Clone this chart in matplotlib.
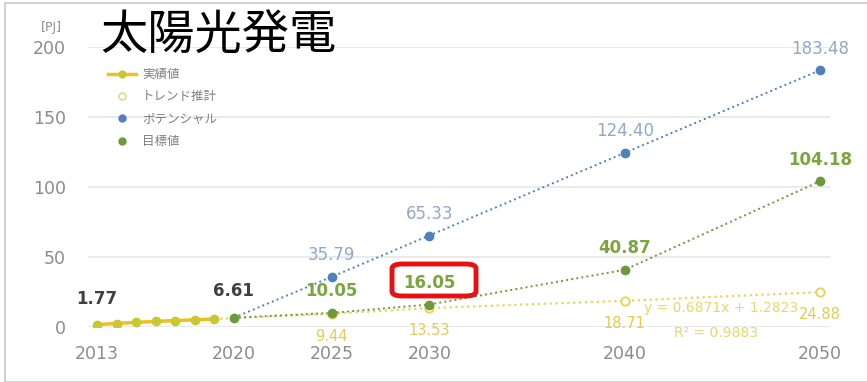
import matplotlib
matplotlib.use("Agg")
import matplotlib.pyplot as plt
from matplotlib.patches import FancyBboxPatch, Rectangle
from matplotlib.lines import Line2D

# actual values (2013-2019)
actual_years = [2013, 2014, 2015, 2016, 2017, 2018, 2019]
actual_vals = [1.77, 2.5, 3.3, 4.0, 4.6, 5.1, 5.7]

# trend estimate
trend_years = [2025, 2030, 2040, 2050]
trend_vals = [9.44, 13.53, 18.71, 24.88]
trend_line_years = [2019, 2025, 2030, 2040, 2050]
trend_line_vals = [5.7, 9.44, 13.53, 18.71, 24.88]

# potential
pot_years = [2020, 2025, 2030, 2040, 2050]
pot_vals = [6.61, 35.79, 65.33, 124.40, 183.48]

# target
tgt_years = [2020, 2025, 2030, 2040, 2050]
tgt_vals = [6.61, 10.05, 16.05, 40.87, 104.18]

xticks = [2013, 2020, 2025, 2030, 2040, 2050]
yticks = [0, 50, 100, 150, 200]

JP = ['Noto Sans CJK JP', 'DejaVu Sans']
C_ACT = '#f0c020'
C_ACT_M = '#c8c832'
C_TR = '#e8d45a'
C_POT = '#4f81bd'
C_TGT = '#6a9a3a'

fig = plt.figure(figsize=(8.67, 3.82), dpi=100)
ax = fig.add_axes([88/867, 1-327/382, 742/867, 280/382])

# figure frame
fig.patches.append(Rectangle((5/867, 0), 1.2, 1-3/382, transform=fig.transFigure,
                             fill=False, edgecolor='#c8c8c8', linewidth=1.2))

ax.plot(trend_line_years, trend_line_vals, ':', color=C_TR, lw=1.6, zorder=2)
ax.plot(pot_years, pot_vals, ':', color=C_POT, lw=1.4, zorder=2)
ax.plot(tgt_years, tgt_vals, ':', color=C_TGT, lw=1.4, zorder=2)
ax.plot(pot_years[1:], pot_vals[1:], 'o', color=C_POT, ms=6, zorder=3)
ax.plot(tgt_years, tgt_vals, 'o', color=C_TGT, ms=6, zorder=4)
ax.plot(trend_years, trend_vals, 'o', mfc='white', mec=C_TR, mew=1.4, ms=6, zorder=3)
ax.plot(actual_years, actual_vals, '-', color=C_ACT, lw=2.5, zorder=3)
ax.plot(actual_years, actual_vals, 'o', color=C_ACT_M, ms=6, zorder=4)

# data labels
ax.annotate(f"{actual_vals[0]:.2f}", (actual_years[0], actual_vals[0]), xytext=(0, 12),
            textcoords='offset points', ha='center', va='bottom', fontsize=12,
            fontweight='bold', color='#404040')
ax.annotate(f"{tgt_vals[0]:.2f}", (tgt_years[0], tgt_vals[0]), xytext=(0, 13),
            textcoords='offset points', ha='center', va='bottom', fontsize=12,
            fontweight='bold', color='#404040')
for x, y in zip(pot_years[1:], pot_vals[1:]):
    ax.annotate(f"{y:.2f}", (x, y), xytext=(0, 9), textcoords='offset points',
                ha='center', va='bottom', fontsize=12, color='#8faac8')
for x, y in zip(tgt_years[1:], tgt_vals[1:]):
    ax.annotate(f"{y:.2f}", (x, y), xytext=(0, 9), textcoords='offset points',
                ha='center', va='bottom', fontsize=12, fontweight='bold', color='#7aa640')
for x, y in zip(trend_years, trend_vals):
    ax.annotate(f"{y:.2f}", (x, y), xytext=(0, -16), textcoords='offset points',
                ha='center', va='center', fontsize=10.5, color='#e4cc50')

ax.text(2041.0, 13.5, "y = 0.6871x + 1.2823", fontsize=10, color='#e8d86a', va='center')
ax.text(2042.5, -4, "R² = 0.9883", fontsize=10, color='#e8d86a', va='center')

ax.set_xlim(2012.54, 2050.5)
ax.set_ylim(0, 200)
ax.set_xticks(xticks)
ax.set_yticks(yticks)
ax.tick_params(length=0, colors='#8c8c8c', labelsize=12.5)
ax.tick_params(axis='x', pad=13)
ax.tick_params(axis='y', pad=16)
ax.grid(axis='y', color='#e6e6e6', lw=1.2)
ax.set_axisbelow(True)
for s in ax.spines.values():
    s.set_visible(False)
ax.text(-0.05, 1.068, "[PJ]", transform=ax.transAxes, ha='center', va='center',
        fontsize=9, color='#8c8c8c')

handles = [
    Line2D([], [], color=C_ACT, lw=2.5, marker='o', mfc=C_ACT_M, mec=C_ACT_M, ms=5),
    Line2D([], [], ls='', marker='o', mfc='white', mec=C_TR, ms=5),
    Line2D([], [], ls='', marker='o', color=C_POT, ms=5),
    Line2D([], [], ls='', marker='o', color=C_TGT, ms=5),
]
labels = ["実績値", "トレンド推計", "ポテンシャル", "目標値"]
leg = ax.legend(handles, labels, loc='upper left', bbox_to_anchor=(0.012, 0.965),
                frameon=False, handlelength=2.2, handletextpad=0.5, labelspacing=0.75,
                prop={'family': JP, 'size': 9})
for t in leg.get_texts():
    t.set_color('#808080')

fig.text(100/867, 1-36/382, "太陽光発電", family=JP, fontsize=34, color='black',
         ha='left', va='center')

# highlight box
fig.patches.append(FancyBboxPatch((392/867, 1-296/382), 84/867, 32/382,
                                  boxstyle='round,pad=0,rounding_size=0.012',
                                  transform=fig.transFigure, fill=False,
                                  edgecolor='#e81010', linewidth=3.5, zorder=10))

fig.savefig("out.png", dpi=100)
